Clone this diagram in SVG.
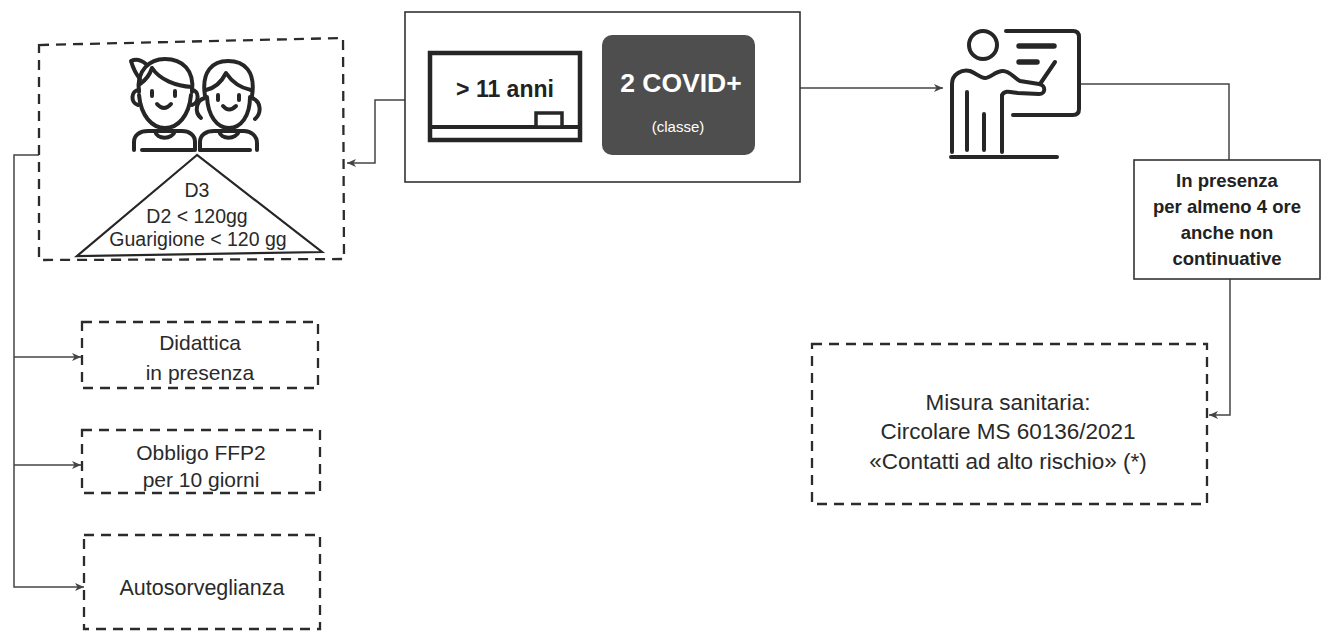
<svg xmlns="http://www.w3.org/2000/svg" width="1331" height="633" viewBox="0 0 1331 633">
<style>
  .bg{fill:#ffffff}
  .dash{fill:none;stroke:#2b2b2b;stroke-width:2.3;stroke-dasharray:10 7}
  .solid{fill:#ffffff;stroke:#333333;stroke-width:1.6}
  .icon{fill:none;stroke:#262626;stroke-width:4;stroke-linecap:round;stroke-linejoin:round}
  .conn{fill:none;stroke:#444444;stroke-width:1.5}
  .t{font-family:"Liberation Sans",Arial,sans-serif;fill:#2a2a2a;text-anchor:middle}
  .tb{font-family:"Liberation Sans",Arial,sans-serif;fill:#222222;font-weight:bold;text-anchor:middle}
</style>
<defs>
  <marker id="arr" markerUnits="userSpaceOnUse" markerWidth="10" markerHeight="8" refX="9" refY="4" orient="auto">
    <path d="M0,0 L9,4 L0,8 L2.5,4 Z" fill="#444444"/>
  </marker>
</defs>
<rect class="bg" x="0" y="0" width="1331" height="633"/>

<g id="connectors">
  <polyline class="conn" points="405,100 375,100 375,163 347,163" marker-end="url(#arr)"/>
  <polyline class="conn" points="800,88 943,88" marker-end="url(#arr)"/>
  <polyline class="conn" points="1080,84 1229,84 1229,160"/>
  <polyline class="conn" points="1230,279 1230,415 1209,415" marker-end="url(#arr)"/>
  <polyline class="conn" points="39,155 14,155 14,587 84,587" marker-end="url(#arr)"/>
  <polyline class="conn" points="14,357 81,357" marker-end="url(#arr)"/>
  <polyline class="conn" points="14,465 81,465" marker-end="url(#arr)"/>
</g>

<g id="children">
  <path class="dash" d="M39 45 L343 38 L344 259 L39 260 Z"/>
  <!-- boy -->
  <path class="icon" d="M139 92 C136 70 150 59 165 59 C182 59 195 70 192 92"/>
  <path class="icon" d="M146 64 C140 59 135 59 131 61 C133 68 136 74 140 79"/>
  <path class="icon" d="M140 84 C146 80 150 74 152 68 C160 80 176 86 192 87"/>
  <path class="icon" d="M139 90 C131 90 130 103 138 105"/>
  <path class="icon" d="M192 90 C199 90 200 103 192 105"/>
  <path class="icon" d="M139 95 C141 116 152 128 165 128 C178 128 189 116 191 95"/>
  <path class="icon" d="M152 91 L152 96 M175 91 L175 96"/>
  <path class="icon" d="M157 104 Q164 112 171 104"/>
  <path class="icon" d="M134 150 L134 142 C134 135 140 131 148 131 L182 131 C189 131 195 135 195 142 L195 150"/>
  <path class="icon" d="M155 131 C157 140 172 140 175 131"/>
  <path class="icon" d="M142 150 L193 150"/>
  <!-- girl -->
  <path class="icon" d="M205 96 C201 71 213 61 228 61 C244 61 256 71 252 96"/>
  <path class="icon" d="M206 90 C215 88 222 81 226 73 C232 82 241 88 251 90"/>
  <path class="icon" d="M205 98 C196 100 194 112 201 118"/>
  <path class="icon" d="M252 98 C261 101 262 113 255 119"/>
  <path class="icon" d="M207 97 C208 116 217 128 229 128 C241 128 250 116 250 97"/>
  <path class="icon" d="M218 95 L218 100 M239 95 L239 100"/>
  <path class="icon" d="M223 106 Q229 113 236 106"/>
  <path class="icon" d="M200 150 L200 142 C200 135 206 131 214 131 L244 131 C251 131 257 136 257 143 L257 150"/>
  <path class="icon" d="M219 131 C221 140 236 140 239 131"/>
  <path class="icon" d="M200 150 L250 150"/>
  <!-- triangle -->
  <path d="M197 155 L77 256 L322 252 Z" fill="none" stroke="#262626" stroke-width="2.2" stroke-linejoin="miter"/>
  <text class="t" x="197" y="197" font-size="19.5">D3</text>
  <text class="t" x="197" y="223" font-size="19.5">D2 &lt; 120gg</text>
  <text class="t" x="198" y="246" font-size="19.5">Guarigione &lt; 120 gg</text>
</g>

<g id="condition">
  <rect class="solid" x="405" y="12" width="395" height="170"/>
  <rect x="430" y="53" width="150" height="87" fill="#ffffff" stroke="#262626" stroke-width="4.5"/>
  <line x1="430" y1="127" x2="580" y2="127" stroke="#262626" stroke-width="4"/>
  <rect x="536" y="113" width="26" height="14" fill="#ffffff" stroke="#262626" stroke-width="3.5"/>
  <text class="tb" x="505" y="97" font-size="23">&gt; 11 anni</text>
  <rect x="602" y="35" width="153" height="120" rx="10" ry="10" fill="#4e4e4e"/>
  <text x="681" y="92" font-family="Liberation Sans,Arial,sans-serif" font-weight="bold" font-size="26.5" fill="#ffffff" text-anchor="middle">2 COVID+</text>
  <text x="678" y="132" font-family="Liberation Sans,Arial,sans-serif" font-size="15" fill="#ffffff" text-anchor="middle">(classe)</text>
</g>

<g id="teacher">
  <circle class="icon" cx="983" cy="45" r="14"/>
  <path class="icon" d="M1006 31 L1073 31 Q1079 31 1079 37 L1079 109 Q1079 115 1073 115 L1013 115"/>
  <path d="M1019 46 L1054 46 M1019 62 L1037 62" fill="none" stroke="#262626" stroke-width="5.5" stroke-linecap="round"/>
  <path class="icon" d="M1040 84 L1055 62"/>
  <path class="icon" d="M952 152 L952 84 C952 74 962 69 970 71 C976 73 980 78 985 78 C991 78 995 71 1003 71 C1010 71 1014 78 1020 81 L1039 84 C1046 85 1046 94 1039 94 L1018 93 C1010 92 1005 90 1002 95 L1002 152"/>
  <path class="icon" d="M967 150 L967 92 M984 150 L984 114"/>
  <path class="icon" d="M951 157 L1057 157"/>
</g>

<g id="presence">
  <rect class="solid" x="1134" y="160" width="186" height="119"/>
  <text class="tb" x="1227" y="187" font-size="18.5">In presenza</text>
  <text class="tb" x="1227" y="213" font-size="18.5">per almeno 4 ore</text>
  <text class="tb" x="1227" y="239" font-size="18.5">anche non</text>
  <text class="tb" x="1227" y="265" font-size="18.5">continuative</text>
</g>

<g id="misura">
  <rect class="dash" x="812" y="344" width="395" height="160"/>
  <text class="t" x="1008" y="410" font-size="22.5">Misura sanitaria:</text>
  <text class="t" x="1008" y="439" font-size="22.5">Circolare MS 60136/2021</text>
  <text class="t" x="1008" y="469" font-size="22.5">«Contatti ad alto rischio» (*)</text>
</g>

<g id="didattica">
  <rect class="dash" x="82" y="322" width="236" height="66"/>
  <text class="t" x="200" y="350" font-size="21">Didattica</text>
  <text class="t" x="200" y="380" font-size="21">in presenza</text>
</g>

<g id="ffp2">
  <rect class="dash" x="82" y="430" width="238" height="63"/>
  <text class="t" x="201" y="460" font-size="21">Obbligo FFP2</text>
  <text class="t" x="201" y="487" font-size="21">per 10 giorni</text>
</g>

<g id="autosorveglianza">
  <rect class="dash" x="84" y="535" width="236" height="94"/>
  <text class="t" x="202" y="595" font-size="21.5">Autosorveglianza</text>
</g>
</svg>
